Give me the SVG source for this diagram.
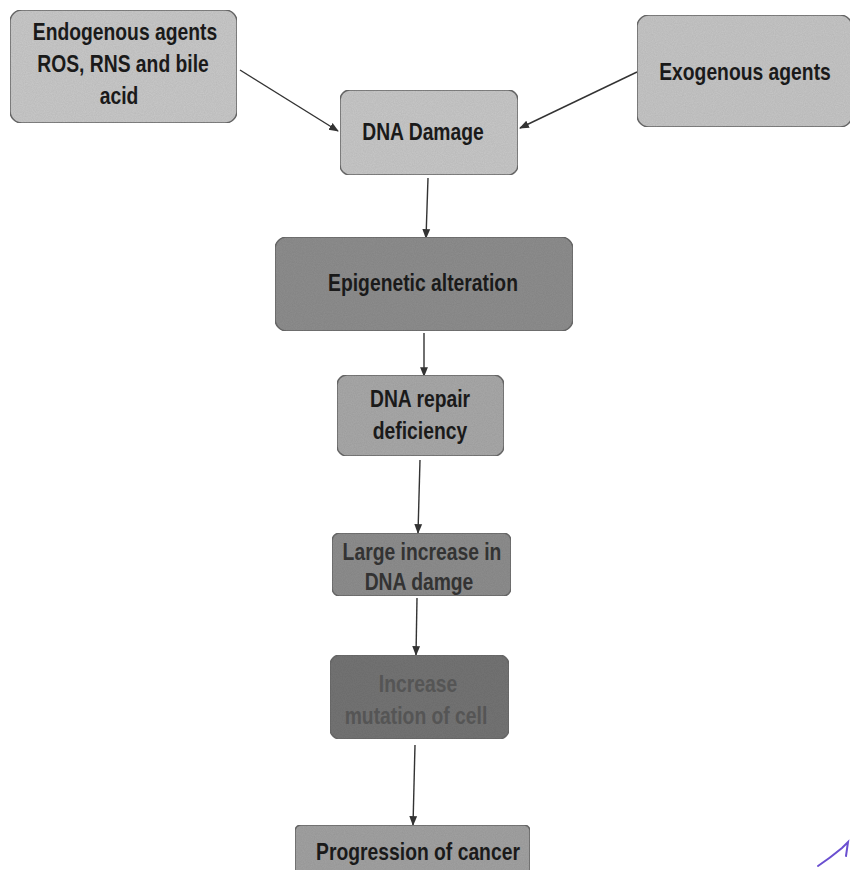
<svg xmlns="http://www.w3.org/2000/svg" width="850" height="870" viewBox="0 0 850 870">
  <defs>
    <marker id="arrow" viewBox="0 0 10 10" refX="9" refY="5" markerWidth="7" markerHeight="7" orient="auto-start-reverse">
      <path d="M0,1 L10,5 L0,9 z" fill="#333"/>
    </marker>
    <filter id="grain" x="0" y="0" width="1" height="1">
      <feTurbulence type="fractalNoise" baseFrequency="0.9" numOctaves="2" seed="3" result="n"/>
      <feColorMatrix in="n" type="matrix" values="0 0 0 0 0.5  0 0 0 0 0.5  0 0 0 0 0.5  0 0 0 0.35 0" result="g"/>
      <feComposite in="g" in2="SourceGraphic" operator="in" result="gm"/>
      <feBlend in="SourceGraphic" in2="gm" mode="multiply"/>
    </filter>
  </defs>
  <style>
    .box { stroke: #6a6a6a; stroke-width: 1.5; filter: url(#grain); }
    .lbl { font-family: "Liberation Sans", Arial, sans-serif; font-weight: bold; font-size: 23px; text-anchor: middle; fill: #1a1a1a; }
    .dim { fill: #333; }
    .faint { fill: #555; }
    .edge { stroke: #333; stroke-width: 1.4; fill: none; marker-end: url(#arrow); }
  </style>
  <rect width="850" height="870" fill="#ffffff"/>

  <g id="connectors">
    <line class="edge" x1="240" y1="70" x2="338" y2="131"/>
    <line class="edge" x1="637" y1="72" x2="520" y2="128"/>
    <line class="edge" x1="428" y1="178" x2="426" y2="238"/>
    <line class="edge" x1="424" y1="333" x2="424" y2="376"/>
    <line class="edge" x1="420" y1="460" x2="418" y2="533"/>
    <line class="edge" x1="417" y1="598" x2="416" y2="655"/>
    <line class="edge" x1="415" y1="745" x2="413" y2="825"/>
  </g>

  <!-- labels are set in a narrowed bold sans: each line is scaled 0.84 horizontally -->
  <g id="endogenous">
    <rect class="box" x="10" y="10" width="227" height="113" rx="12" fill="#c9c9c9"/>
    <text class="lbl" transform="translate(125,40) scale(0.84,1)">Endogenous agents</text>
    <text class="lbl" transform="translate(123,72) scale(0.84,1)">ROS, RNS and bile</text>
    <text class="lbl" transform="translate(119,104) scale(0.84,1)">acid</text>
  </g>

  <g id="exogenous">
    <rect class="box" x="637" y="15" width="215" height="112" rx="12" fill="#c6c6c6"/>
    <text class="lbl" transform="translate(745,80) scale(0.84,1)">Exogenous agents</text>
  </g>

  <g id="dna-damage">
    <rect class="box" x="340" y="90" width="178" height="85" rx="10" fill="#c8c8c8"/>
    <text class="lbl" transform="translate(423,140) scale(0.84,1)">DNA Damage</text>
  </g>

  <g id="epigenetic">
    <rect class="box" x="275" y="237" width="298" height="94" rx="12" fill="#8e8e8e"/>
    <text class="lbl" transform="translate(423,291) scale(0.84,1)">Epigenetic alteration</text>
  </g>

  <g id="dna-repair">
    <rect class="box" x="337" y="375" width="167" height="81" rx="10" fill="#a9a9a9"/>
    <text class="lbl" transform="translate(420,407) scale(0.84,1)">DNA repair</text>
    <text class="lbl" transform="translate(420,439) scale(0.84,1)">deficiency</text>
  </g>

  <g id="large-increase">
    <rect class="box" x="332" y="533" width="179" height="63" rx="8" fill="#8e8e8e"/>
    <text class="lbl dim" transform="translate(422,560) scale(0.84,1)">Large increase in</text>
    <text class="lbl dim" transform="translate(419,590) scale(0.84,1)">DNA damge</text>
  </g>

  <g id="increase-mutation">
    <rect class="box" x="330" y="655" width="179" height="84" rx="10" fill="#747474"/>
    <text class="lbl faint" transform="translate(418,692) scale(0.84,1)">Increase</text>
    <text class="lbl faint" transform="translate(416,724) scale(0.84,1)">mutation of cell</text>
  </g>

  <g id="progression">
    <rect class="box" x="295" y="825" width="235" height="60" rx="6" fill="#a2a2a2"/>
    <text class="lbl" transform="translate(418,860) scale(0.84,1)">Progression of cancer</text>
  </g>

  <!-- pen stroke in the lower right corner -->
  <path d="M818,866 Q830,858 842,848 L848,842 L846,856" fill="none" stroke="#6a4fd0" stroke-width="2" stroke-linecap="round"/>
</svg>
